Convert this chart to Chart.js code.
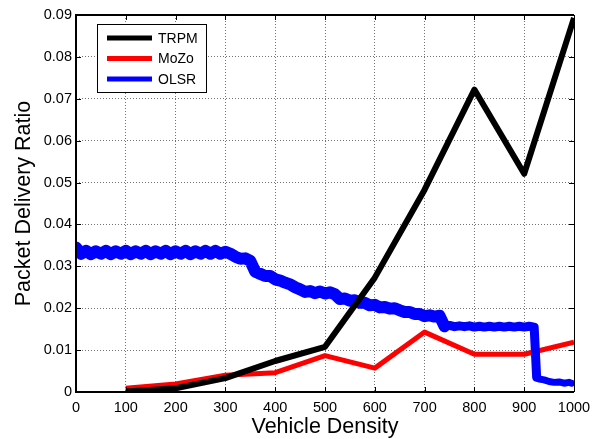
<!DOCTYPE html>
<html>
<head>
<meta charset="utf-8">
<script src="https://cdn.jsdelivr.net/npm/chart.js@4"></script>
<style>
  body { margin: 0; background: #fff; }
  #box { width: 602px; height: 439px; }
</style>
</head>
<body>
<div id="box"><canvas id="grafico" width="602" height="439"></canvas></div>
<script>
// dados
const densidade = [100, 200, 300, 400, 500, 600, 700, 800, 900, 1000];
const trpm = [0.0001, 0.0009, 0.0033, 0.0074, 0.0108, 0.0273, 0.0483, 0.0722, 0.0521, 0.0893];
const mozo = [0.0009, 0.0019, 0.0040, 0.0046, 0.0087, 0.0057, 0.0143, 0.0090, 0.0090, 0.0119];

const olsrX = [0, 10, 20, 30, 40, 50, 60, 70, 80, 90, 100, 110, 120, 130, 140, 150, 160, 170, 180, 190,
  200, 210, 220, 230, 240, 250, 260, 270, 280, 290, 300, 310, 320, 330, 340, 350, 360, 370, 380, 390,
  400, 410, 420, 430, 440, 450, 460, 470, 480, 490, 500, 510, 520, 530, 540, 550, 560, 570, 580, 590,
  600, 610, 620, 630, 640, 650, 660, 670, 680, 690, 700, 710, 720, 730, 740, 750, 760, 770, 780, 790,
  800, 810, 820, 830, 840, 850, 860, 870, 880, 890, 900, 910, 920, 925, 930, 940, 950, 960, 970, 980,
  990, 995];
const olsrY = [0.0345, 0.0330, 0.0337, 0.0329, 0.0336, 0.0330, 0.0337, 0.0329, 0.0336, 0.0330,
  0.0337, 0.0329, 0.0336, 0.0330, 0.0337, 0.0329, 0.0336, 0.0330, 0.0337, 0.0329,
  0.0336, 0.0330, 0.0337, 0.0329, 0.0336, 0.0330, 0.0337, 0.0330, 0.0337, 0.0330,
  0.0335, 0.0330, 0.0323, 0.0318, 0.0319, 0.0313, 0.0287, 0.0282, 0.0277, 0.0277,
  0.0269, 0.0266, 0.0261, 0.0257, 0.0250, 0.0245, 0.0239, 0.0241, 0.0236, 0.0240,
  0.0235, 0.0238, 0.0233, 0.0222, 0.0223, 0.0218, 0.0219, 0.0213, 0.0213, 0.0207,
  0.0208, 0.0202, 0.0203, 0.0199, 0.0200, 0.0195, 0.0191, 0.0191, 0.0186, 0.0186,
  0.0181, 0.0183, 0.0180, 0.0182, 0.0157, 0.0159, 0.0156, 0.0158, 0.0156, 0.0158,
  0.0155, 0.0157, 0.0155, 0.0157, 0.0155, 0.0157, 0.0155, 0.0157, 0.0155, 0.0157,
  0.0155, 0.0157, 0.0155, 0.0035, 0.0031, 0.0029, 0.0025, 0.0023, 0.0024, 0.0021,
  0.0023, 0.0021];

const fonte = 'Liberation Sans, Arial, sans-serif';

// legenda desenhada dentro do gráfico, no estilo do MATLAB
const legendaInterna = {
  id: 'legendaInterna',
  afterDraw(chart) {
    const ctx = chart.ctx;
    const itens = [0, 1, 2].map(i => chart.data.datasets[i]);
    ctx.save();
    ctx.fillStyle = '#fff';
    ctx.fillRect(97, 24, 109, 68);
    ctx.strokeStyle = '#000';
    ctx.lineWidth = 1;
    ctx.strokeRect(97.5, 24.5, 109, 68);
    ctx.font = '14px ' + fonte;
    ctx.textBaseline = 'middle';
    itens.forEach((ds, i) => {
      const y = 38 + i * 20.5;
      ctx.strokeStyle = ds.borderColor;
      ctx.lineWidth = 5;
      ctx.beginPath();
      ctx.moveTo(107, y);
      ctx.lineTo(152, y);
      ctx.stroke();
      ctx.fillStyle = '#000';
      ctx.fillText(ds.label, 158, y + 1);
    });
    ctx.restore();
  }
};

// moldura com marcas de escala para dentro
const moldura = {
  id: 'moldura',
  afterDatasetsDraw(chart) {
    const { ctx, chartArea: a, scales } = chart;
    ctx.save();
    ctx.strokeStyle = '#000';
    ctx.lineWidth = 1;
    ctx.beginPath();
    scales.x.ticks.forEach(t => {
      const px = Math.round(scales.x.getPixelForValue(t.value)) + 0.5;
      ctx.moveTo(px, a.bottom); ctx.lineTo(px, a.bottom - 5);
      ctx.moveTo(px, a.top); ctx.lineTo(px, a.top + 5);
    });
    scales.y.ticks.forEach(t => {
      const py = Math.round(scales.y.getPixelForValue(t.value)) + 0.5;
      ctx.moveTo(a.left, py); ctx.lineTo(a.left + 5, py);
      ctx.moveTo(a.right, py); ctx.lineTo(a.right - 5, py);
    });
    ctx.stroke();
    ctx.lineWidth = 2;
    ctx.beginPath();
    ctx.moveTo(a.right, a.top);
    ctx.lineTo(a.left, a.top);
    ctx.lineTo(a.left, a.bottom);
    ctx.lineTo(a.right, a.bottom);
    ctx.stroke();
    ctx.lineWidth = 1;
    ctx.beginPath();
    ctx.moveTo(a.right + 0.5, a.top);
    ctx.lineTo(a.right + 0.5, a.bottom);
    ctx.stroke();
    ctx.restore();
  }
};

// espessura da faixa azul muda ao longo da curva
function larguraOlsr(c) {
  const x = c.p0.parsed.x;
  if (x < 735) return 12;
  if (x < 922) return 9;
  return 7;
}

const ctx = document.getElementById('grafico').getContext('2d');
new Chart(ctx, {
  type: 'line',
  data: {
    datasets: [
      {
        label: 'TRPM',
        data: densidade.map((x, i) => ({ x: x, y: trpm[i] })),
        borderColor: '#000000',
        borderWidth: 6,
        order: 0
      },
      {
        label: 'MoZo',
        data: densidade.map((x, i) => ({ x: x, y: mozo[i] })),
        borderColor: '#ff0000',
        borderWidth: 5,
        order: 2
      },
      {
        label: 'OLSR',
        data: olsrX.map((x, i) => ({ x: x, y: olsrY[i] })),
        borderColor: '#0000ff',
        borderWidth: 12,
        borderJoinStyle: 'round',
        borderCapStyle: 'round',
        segment: { borderWidth: larguraOlsr },
        order: 1
      }
    ]
  },
  options: {
    responsive: false,
    animation: false,
    devicePixelRatio: 1,
    elements: {
      point: { radius: 0 },
      line: { tension: 0, borderJoinStyle: 'round' }
    },
    layout: { padding: { top: 15, right: 28, left: 0, bottom: 0 } },
    plugins: {
      legend: { display: false },
      tooltip: { enabled: false }
    },
    scales: {
      x: {
        type: 'linear',
        min: 0,
        max: 1000,
        afterFit: s => { s.height = 47; },
        ticks: {
          stepSize: 100,
          padding: 7,
          color: '#000',
          font: { family: fonte, size: 14.5 },
          maxRotation: 0,
          callback: v => String(v)
        },
        grid: { color: 'rgba(0,0,0,0.55)', drawTicks: false },
        border: { display: false, dash: [1, 2] },
        title: {
          display: true,
          text: 'Vehicle Density',
          color: '#000',
          font: { family: fonte, size: 21.5, lineHeight: 1 },
          padding: { top: 0, bottom: 1 }
        }
      },
      y: {
        min: 0,
        max: 0.09,
        afterFit: s => { s.width = 76; },
        ticks: {
          stepSize: 0.01,
          padding: 4,
          color: '#000',
          font: { family: fonte, size: 14.5 },
          callback: v => (v === 0 ? '0' : v.toFixed(2))
        },
        grid: { color: 'rgba(0,0,0,0.55)', drawTicks: false },
        border: { display: false, dash: [1, 2] },
        title: {
          display: true,
          text: 'Packet Delivery Ratio',
          color: '#000',
          font: { family: fonte, size: 21.5, lineHeight: 1 },
          padding: { top: 13, bottom: 0 }
        }
      }
    }
  },
  plugins: [moldura, legendaInterna]
});
</script>
</body>
</html>
